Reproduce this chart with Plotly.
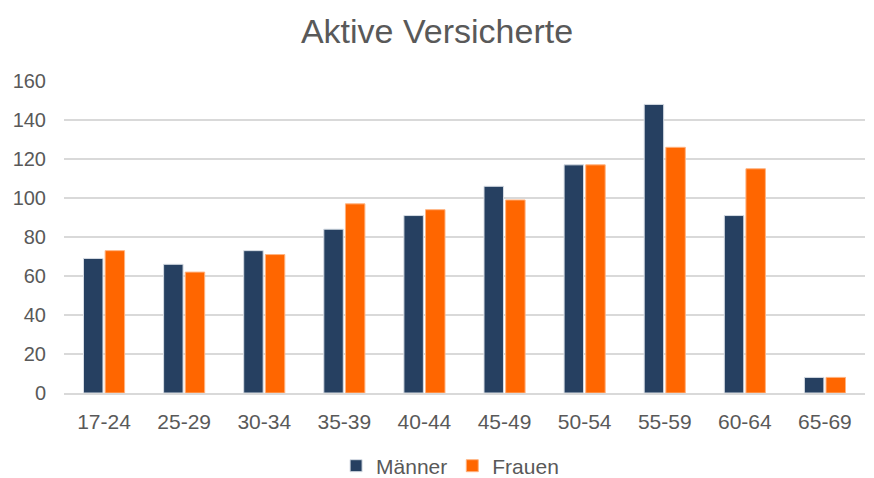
import plotly.graph_objects as go

categories = ["17-24", "25-29", "30-34", "35-39", "40-44", "45-49", "50-54", "55-59", "60-64", "65-69"]
maenner = [69, 66, 73, 84, 91, 106, 117, 148, 91, 8]
frauen = [73, 62, 71, 97, 94, 99, 117, 126, 115, 8]
y_ticks = [0, 20, 40, 60, 80, 100, 120, 140, 160]

fig = go.Figure()
fig.add_trace(go.Bar(x=categories, y=maenner, name="Männer",
                     marker=dict(color="#264061", line=dict(color="#D6DCE4", width=1))))
fig.add_trace(go.Bar(x=categories, y=frauen, name="Frauen",
                     marker=dict(color="#FF6600", line=dict(color="#FFB380", width=1))))

font_family = "Liberation Sans, Arial, sans-serif"
fig.update_layout(
    width=874, height=478,
    paper_bgcolor="white", plot_bgcolor="white",
    margin=dict(l=64, r=9, t=81, b=85, autoexpand=False),
    barmode="group", bargap=0.46, bargroupgap=0.1,
    title=dict(text="Aktive Versicherte", x=0.5, xanchor="center", y=0.935, yanchor="middle",
               font=dict(family=font_family, size=34, color="#595959")),
    font=dict(family=font_family, size=20, color="#595959"),
    legend=dict(orientation="h", x=0.482, xanchor="center", y=0.025, yref="container",
                yanchor="middle", font=dict(size=21, color="#595959"),
                traceorder="normal", itemwidth=30),
    xaxis=dict(showgrid=False, showline=True, linecolor="#D9D9D9", linewidth=2,
               ticklabelstandoff=9,
               tickfont=dict(size=21, color="#595959"), ticks="", automargin=False),
    yaxis=dict(range=[0, 160], tickvals=y_ticks, showgrid=True, gridcolor="#D9D9D9",
               gridwidth=2, zeroline=False, ticks="", showline=False, automargin=False,
               ticklabelstandoff=17,
               tickfont=dict(size=20, color="#595959")),
)

fig.write_html("out.html", config={"displayModeBar": False},
               post_script="document.body.style.margin='0';")
